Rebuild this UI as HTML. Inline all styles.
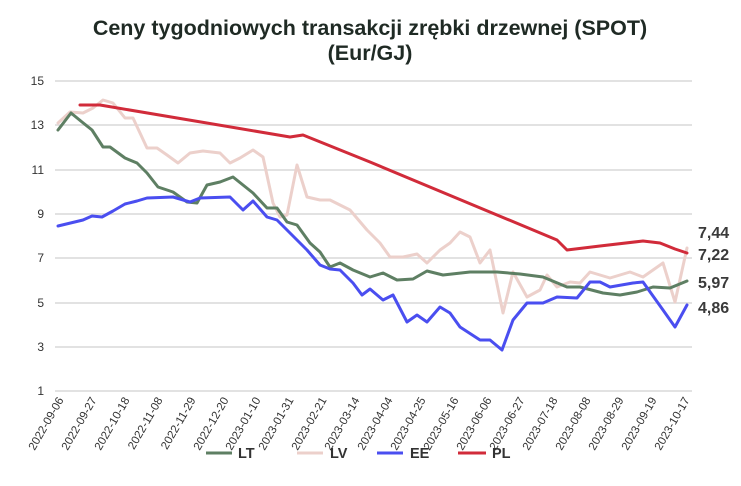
<!DOCTYPE html>
<html><head><meta charset="utf-8"><style>
body{margin:0;background:#fff;}
svg{display:block;font-family:"Liberation Sans",sans-serif;}
</style></head><body>
<svg width="741" height="486" viewBox="0 0 741 486" xmlns="http://www.w3.org/2000/svg">
<rect width="741" height="486" fill="#fff"/>
<text x="370" y="35" text-anchor="middle" font-size="21.5" font-weight="bold" fill="#1f2a24">Ceny tygodniowych transakcji zrębki drzewnej (SPOT)</text>
<text x="370" y="60" text-anchor="middle" font-size="21.5" font-weight="bold" fill="#1f2a24">(Eur/GJ)</text>
<g stroke="#d9d9d9" stroke-width="1.5">
<line x1="55" x2="692" y1="81" y2="81"/><line x1="55" x2="692" y1="125" y2="125"/>
<line x1="55" x2="692" y1="170" y2="170"/><line x1="55" x2="692" y1="214" y2="214"/>
<line x1="55" x2="692" y1="258" y2="258"/><line x1="55" x2="692" y1="303" y2="303"/>
<line x1="55" x2="692" y1="347" y2="347"/><line x1="55" x2="692" y1="391" y2="391"/>
</g>
<g font-size="12" fill="#333" text-anchor="end">
<text x="44" y="85">15</text><text x="44" y="129">13</text><text x="44" y="174">11</text>
<text x="44" y="218">9</text><text x="44" y="262">7</text><text x="44" y="307">5</text>
<text x="44" y="351">3</text><text x="44" y="395">1</text>
</g>
<g font-size="11.5" fill="#333" text-anchor="end">
<text transform="translate(64,400) rotate(-60)">2022-09-06</text>
<text transform="translate(97,400) rotate(-60)">2022-09-27</text>
<text transform="translate(130,400) rotate(-60)">2022-10-18</text>
<text transform="translate(163,400) rotate(-60)">2022-11-08</text>
<text transform="translate(196,400) rotate(-60)">2022-11-29</text>
<text transform="translate(229,400) rotate(-60)">2022-12-20</text>
<text transform="translate(261,400) rotate(-60)">2023-01-10</text>
<text transform="translate(294,400) rotate(-60)">2023-01-31</text>
<text transform="translate(327,400) rotate(-60)">2023-02-21</text>
<text transform="translate(360,400) rotate(-60)">2023-03-14</text>
<text transform="translate(393,400) rotate(-60)">2023-04-04</text>
<text transform="translate(426,400) rotate(-60)">2023-04-25</text>
<text transform="translate(459,400) rotate(-60)">2023-05-16</text>
<text transform="translate(492,400) rotate(-60)">2023-06-06</text>
<text transform="translate(525,400) rotate(-60)">2023-06-27</text>
<text transform="translate(558,400) rotate(-60)">2023-07-18</text>
<text transform="translate(591,400) rotate(-60)">2023-08-08</text>
<text transform="translate(624,400) rotate(-60)">2023-08-29</text>
<text transform="translate(657,400) rotate(-60)">2023-09-19</text>
<text transform="translate(690,400) rotate(-60)">2023-10-17</text>
</g>
<g fill="none" stroke-width="3" stroke-linejoin="round" stroke-linecap="round">
<polyline stroke="#ecd0cb" points="58,123 70,112 83,113 93,108 103,100 113,103 125,118 133,118 147,148 157,148 167,155 178,163 190,153 203,151 220,153 230,163 240,158 253,150 263,157 273,203 280,217 287,215 297,165 307,197 320,200 330,200 350,210 367,230 380,243 390,257 403,257 417,254 427,263 440,250 450,243 460,232 470,237 480,263 490,250 503,313 513,272 527,297 540,290 547,275 557,287 570,282 580,283 590,272 610,278 630,272 643,277 663,263 675,302 687,248"/>
<polyline stroke="#5e7f63" points="58,130 71,113 82,122 92,130 103,147 110,147 125,158 137,163 147,173 158,187 173,192 187,202 197,203 207,185 220,182 233,177 253,193 267,208 277,208 287,222 297,225 310,243 320,252 330,267 340,263 353,270 370,277 383,273 397,280 413,279 427,271 443,275 470,272 497,272 520,274 543,277 567,287 580,287 603,293 620,295 637,292 653,287 670,288 687,281"/>
<polyline stroke="#4a4ef0" points="58,226 83,220 92,216 102,217 113,211 125,204 137,201 147,198 173,197 190,202 200,198 230,197 243,210 253,201 267,217 277,220 290,233 307,250 320,265 330,269 340,270 353,283 362,295 370,289 383,300 393,295 407,322 417,315 427,322 440,307 450,313 460,327 480,340 490,340 502,350 513,320 527,303 543,303 557,297 577,298 590,282 600,282 610,287 633,283 643,282 663,310 675,327 687,305"/>
<polyline stroke="#d12b3a" points="80,105 100,105 290,137 303,135 370,162 557,240 567,250 600,246 643,241 660,243 675,249 687,253"/>
</g>
<g font-size="16" font-weight="bold" fill="#3a3a3a">
<text x="698" y="238">7,44</text><text x="698" y="260">7,22</text>
<text x="698" y="288">5,97</text><text x="698" y="313">4,86</text>
</g>
<g stroke-width="3">
<line x1="206" x2="232" y1="453" y2="453" stroke="#5e7f63"/>
<line x1="297" x2="323" y1="453" y2="453" stroke="#ecd0cb"/>
<line x1="377" x2="403" y1="453" y2="453" stroke="#4a4ef0"/>
<line x1="458" x2="486" y1="453" y2="453" stroke="#d12b3a"/>
</g>
<g font-size="14.5" font-weight="bold" fill="#333">
<text x="238" y="458">LT</text><text x="330" y="458">LV</text>
<text x="410" y="458">EE</text><text x="492" y="458">PL</text>
</g>
</svg>
</body></html>
